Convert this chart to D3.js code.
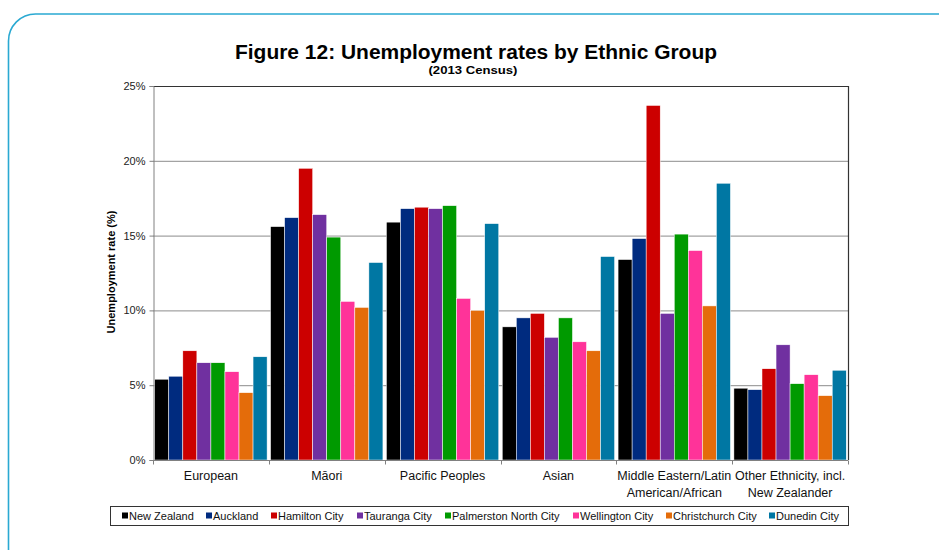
<!DOCTYPE html>
<html>
<head>
<meta charset="utf-8">
<script src="https://cdn.jsdelivr.net/npm/d3@7"></script>
<style>
  body { margin: 0; background: #fff; }
  text { font-family: "Liberation Sans", Arial, sans-serif; }
</style>
</head>
<body>
<div id="chart"></div>
<script>
// categories and series
var groups = ["European", "Māori", "Pacific Peoples", "Asian", "Middle Eastern/Latin\nAmerican/African", "Other Ethnicity, incl.\nNew Zealander"];
var cities = ["New Zealand", "Auckland", "Hamilton City", "Tauranga City", "Palmerston North City", "Wellington City", "Christchurch City", "Dunedin City"];
var colours = ["#000000", "#002b7f", "#cc0000", "#7030a0", "#009a00", "#ff3399", "#e46c0a", "#0077a3"];

var newZealand   = [5.4, 15.6, 15.9, 8.9, 13.4, 4.8];
var auckland     = [5.6, 16.2, 16.8, 9.5, 14.8, 4.7];
var hamilton     = [7.3, 19.5, 16.9, 9.8, 23.7, 6.1];
var tauranga     = [6.5, 16.4, 16.8, 8.2, 9.8, 7.7];
var palmerston   = [6.5, 14.9, 17.0, 9.5, 15.1, 5.1];
var wellington   = [5.9, 10.6, 10.8, 7.9, 14.0, 5.7];
var christchurch = [4.5, 10.2, 10.0, 7.3, 10.3, 4.3];
var dunedin      = [6.9, 13.2, 15.8, 13.6, 18.5, 6.0];
var series = [newZealand, auckland, hamilton, tauranga, palmerston, wellington, christchurch, dunedin];

var yTicks = [0, 5, 10, 15, 20, 25];

var svgWidth = 939, svgHeight = 550;
var margin = {top: 86, right: 91, bottom: 90, left: 153};
var width = svgWidth - margin.left - margin.right;
var height = svgHeight - margin.top - margin.bottom;

var svg = d3.select("#chart").append("svg")
  .attr("width", svgWidth)
  .attr("height", svgHeight);

// rounded frame round the figure
svg.append("rect")
  .attr("x", 8.5).attr("y", 14)
  .attr("width", 960).attr("height", 600)
  .attr("rx", 27).attr("ry", 27)
  .attr("fill", "none")
  .attr("stroke", "#2aa9d2")
  .attr("stroke-width", 1.6);

// titles (the source is stretched a little sideways)
svg.append("text")
  .attr("x", 476).attr("y", 59)
  .attr("text-anchor", "middle")
  .attr("textLength", 482).attr("lengthAdjust", "spacingAndGlyphs")
  .style("font-size", "19.5px").style("font-weight", "bold")
  .text("Figure 12: Unemployment rates by Ethnic Group");
svg.append("text")
  .attr("x", 473).attr("y", 74)
  .attr("text-anchor", "middle")
  .attr("textLength", 89).attr("lengthAdjust", "spacingAndGlyphs")
  .style("font-size", "10.5px").style("font-weight", "bold")
  .text("(2013 Census)");

var g = svg.append("g")
  .attr("transform", "translate(" + margin.left + "," + margin.top + ")");

var y = d3.scaleLinear().domain([0, 25]).range([height, 0]);
var x0 = d3.scaleBand().domain(groups).range([0, width]).paddingInner(0.03).paddingOuter(0.015);
var x1 = d3.scaleBand().domain(cities).range([0, x0.bandwidth()]);

// gridlines
g.append("g").selectAll("line")
  .data(yTicks.filter(function(d) { return d > 0 && d < 25; }))
  .enter().append("line")
  .attr("x1", 0).attr("x2", width)
  .attr("y1", function(d) { return y(d) + 0.5; })
  .attr("y2", function(d) { return y(d) + 0.5; })
  .attr("stroke", "#8c8c8c").attr("stroke-width", 1);

// bars
var groupG = g.selectAll(".grp")
  .data(groups)
  .enter().append("g")
  .attr("class", "grp")
  .attr("transform", function(d) { return "translate(" + x0(d) + ",0)"; });

groupG.selectAll("rect")
  .data(function(d, i) { return cities.map(function(c, j) { return {city: c, value: series[j][i], k: j}; }); })
  .enter().append("rect")
  .attr("x", function(d) { return x1(d.city); })
  .attr("width", x1.bandwidth())
  .attr("y", function(d) { return y(d.value); })
  .attr("height", function(d) { return height - y(d.value); })
  .attr("fill", function(d) { return colours[d.k]; })
  .attr("stroke", "#ffffff").attr("stroke-width", 0.5);

// plot frame: top and right
g.append("path")
  .attr("d", "M0,0.5H" + (width + 0.5) + "V" + height)
  .attr("fill", "none").attr("stroke", "#333").attr("stroke-width", 1.2);

// y axis
var yAxis = g.append("g")
  .attr("transform", "translate(0.5,0)")
  .call(d3.axisLeft(y).tickValues(yTicks).tickSize(4).tickFormat(function(d) { return d + "%"; }));
yAxis.selectAll("path, line").attr("stroke", "#808080");
yAxis.selectAll("text").style("font-size", "11px").attr("fill", "#222").attr("x", -8);

// x axis with ticks between groups
var xAxis = g.append("g").attr("transform", "translate(0," + (height + 0.5) + ")");
xAxis.append("line").attr("x1", 0).attr("x2", width).attr("stroke", "#808080");
xAxis.selectAll(".tk")
  .data(d3.range(groups.length + 1))
  .enter().append("line")
  .attr("x1", function(i) { return Math.round(i * (width / groups.length)) + 0.5; })
  .attr("x2", function(i) { return Math.round(i * (width / groups.length)) + 0.5; })
  .attr("y1", 0).attr("y2", 4)
  .attr("stroke", "#808080");

xAxis.selectAll(".lbl")
  .data(groups)
  .enter().append("text")
  .attr("text-anchor", "middle")
  .attr("transform", function(d) { return "translate(" + (x0(d) + x0.bandwidth() / 2) + ",19)"; })
  .style("font-size", "12.5px").attr("fill", "#111")
  .each(function(d) {
    var lines = d.split("\n");
    d3.select(this).selectAll("tspan").data(lines).enter().append("tspan")
      .attr("x", 0).attr("dy", function(l, i) { return i === 0 ? 0 : 17; })
      .text(function(l) { return l; });
  });

// y axis title
svg.append("text")
  .attr("transform", "translate(115,272) rotate(-90)")
  .attr("text-anchor", "middle")
  .style("font-size", "11px").style("font-weight", "bold")
  .text("Unemployment rate (%)");

// legend
var legend = svg.append("g");
legend.append("rect")
  .attr("x", 110.5).attr("y", 506.5)
  .attr("width", 738).attr("height", 19)
  .attr("fill", "#fff").attr("stroke", "#333").attr("stroke-width", 1);
var legendX = [122, 206, 271, 357, 445, 573, 666, 769];
var item = legend.selectAll(".it")
  .data(cities)
  .enter().append("g")
  .attr("transform", function(d, i) { return "translate(" + legendX[i] + ",516)"; });
item.append("rect")
  .attr("x", 0).attr("y", -3.5).attr("width", 6).attr("height", 6)
  .attr("fill", function(d, i) { return colours[i]; });
item.append("text")
  .attr("x", 7).attr("y", 4)
  .style("font-size", "11px").attr("fill", "#111")
  .text(function(d) { return d; });
</script>
</body>
</html>
